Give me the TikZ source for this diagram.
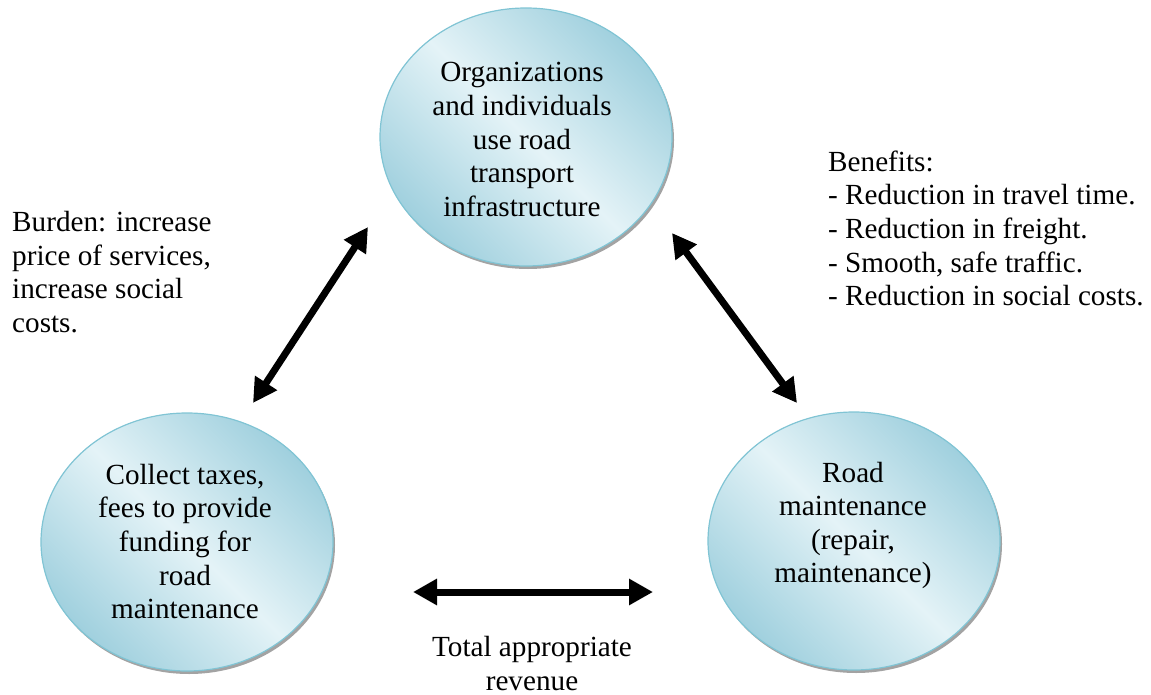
\documentclass[tikz,border=0pt]{standalone}
\usepackage{fontspec}
\setmainfont{Liberation Serif}
\usetikzlibrary{shapes.geometric,arrows.meta,shadows}
\definecolor{E}{RGB}{160,208,222}
\definecolor{C}{RGB}{228,243,247}
\definecolor{B}{RGB}{128,196,212}
\tikzset{
  bubble/.style={ellipse, draw=B, line width=1.2pt, minimum width=292pt, minimum height=258pt,
    top color=E, bottom color=E, middle color=C, shading angle=-45,
    drop shadow={shadow xshift=2pt, shadow yshift=-3pt, fill=gray!80, opacity=.9}},
  words/.style={inner sep=0pt, font=\fontsize{29.2}{33.6}\selectfont},
  twoway/.style={{Triangle[length=24pt,width=25pt]}-{Triangle[length=24pt,width=25pt]}, line width=7pt},
}

\begin{document}
\begin{tikzpicture}[x=1pt,y=-1pt]
\useasboundingbox (0,0) rectangle (1151,695);
% the three bubbles
\node[bubble] (users) at (526,137) {};
\node[bubble] (fund) at (187,542) {};
\node[bubble] (upkeep) at (854,541) {};
\node[words, align=center] (userstxt) at (522,139.5) {Organizations\\and individuals\\use road\\transport\\infrastructure};
\node[words, align=center] (fundtxt) at (185,541.5) {Collect taxes,\\fees to provide\\funding for\\road\\maintenance};
\node[words, align=center] (upkeeptxt) at (853,525.5) {Road\\maintenance\\(repair,\\maintenance)};
% side notes
\node[words, align=left, anchor=west] (burden) at (12,272) {Burden: increase\\price of services,\\increase social\\costs.};
\node[words, align=left, anchor=west] (gains) at (828,228.5) {Benefits:\\- Reduction in travel time.\\- Reduction in freight.\\- Smooth, safe traffic.\\- Reduction in social costs.};
\node[words, align=center] (revenue) at (532,663.5) {Total appropriate\\revenue};
% arrows
\coordinate (lb) at (253,403); \coordinate (lt) at (368,227);
\coordinate (rt) at (672,233); \coordinate (rb) at (797,403);
\coordinate (bl) at (413,592); \coordinate (br) at (653,592);
\draw[twoway] (lb) -- (lt);
\draw[twoway] (rt) -- (rb);
\draw[twoway] (bl) -- (br);
\end{tikzpicture}
\end{document}
